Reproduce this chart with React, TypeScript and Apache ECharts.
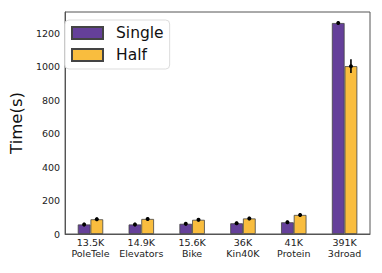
import React, { useEffect, useRef } from "react";
import * as echarts from "echarts";

const categories = ["13.5K\nPoleTele", "14.9K\nElevators", "15.6K\nBike", "36K\nKin40K", "41K\nProtein", "391K\n3droad"];
const singleValues = [57, 57, 61, 64, 70, 1262];
const singleErrors = [4, 4, 4, 4, 4, 4];
const halfValues = [88, 90, 85, 93, 114, 1004];
const halfErrors = [4, 4, 4, 4, 4, 35];
const yTicks = [0, 200, 400, 600, 800, 1000, 1200];

const FONT = "DejaVu Sans";

function errorSeries(values: number[], errors: number[], side: number) {
  return {
    type: "custom",
    name: "err" + side,
    z: 10,
    data: values.map((v, i) => [i, v, errors[i]]),
    encode: { x: 0, y: 1 },
    renderItem: (params: any, api: any) => {
      const i = api.value(0);
      const v = api.value(1);
      const e = api.value(2);
      const band = api.size([1, 0])[0];
      const off = side * band * 0.125;
      const top = api.coord([i, v + e]);
      const bot = api.coord([i, v - e]);
      const mid = api.coord([i, v]);
      const x = mid[0] + off;
      return {
        type: "group",
        children: [
          {
            type: "line",
            shape: { x1: x, y1: top[1] - 1, x2: x, y2: bot[1] + 1 },
            style: { stroke: "#000", lineWidth: 1.6 },
          },
          {
            type: "circle",
            shape: { cx: x, cy: mid[1], r: 2 },
            style: { fill: "#000" },
          },
        ],
      };
    },
  };
}

export default function App() {
  const ref = useRef<HTMLDivElement>(null);
  useEffect(() => {
    if (!ref.current) return;
    const chart = echarts.init(ref.current, null, { renderer: "svg" });
    chart.setOption({
      animation: false,
      textStyle: { fontFamily: FONT },
      grid: {
        left: 57,
        right: 12,
        top: 12,
        bottom: 39,
        show: true,
        borderColor: "#555",
        borderWidth: 1,
        backgroundColor: "transparent",
      },
      legend: {
        data: ["Single", "Half"],
        orient: "vertical",
        left: 65,
        top: 20,
        itemWidth: 31,
        itemHeight: 12,
        itemGap: 6,
        icon: "rect",
        padding: [5, 6, 6, 6],
        backgroundColor: "#fff",
        borderColor: "#ddd",
        borderWidth: 1,
        borderRadius: 4,
        textStyle: { fontFamily: FONT, fontSize: 15.5, color: "#111", padding: [0, 0, 0, 8] },
      },
      xAxis: {
        type: "category",
        data: categories,
        axisTick: { show: false },
        axisLine: { show: true, lineStyle: { color: "#555" } },
        axisLabel: { fontFamily: FONT, fontSize: 9.5, color: "#222", lineHeight: 11, margin: 3, interval: 0 },
      },
      yAxis: {
        type: "value",
        min: 0,
        max: 1328,
        interval: 200,
        name: "Time(s)",
        nameLocation: "middle",
        nameGap: 33,
        nameTextStyle: { fontFamily: FONT, fontSize: 16.5, color: "#111" },
        splitLine: { show: false },
        axisLine: { show: true, lineStyle: { color: "#555" } },
        axisTick: { show: false },
        axisLabel: {
          fontFamily: FONT,
          fontSize: 9.5,
          color: "#222",
          margin: 5,
          showMaxLabel: false,
          formatter: (v: number) => (yTicks.includes(v) ? String(v) : ""),
        },
      },
      series: [
        {
          type: "bar",
          name: "Single",
          data: singleValues,
          barWidth: "25%",
          barGap: "0%",
          itemStyle: { color: "#65409a", borderColor: "#444", borderWidth: 0.8 },
        },
        {
          type: "bar",
          name: "Half",
          data: halfValues,
          barWidth: "25%",
          barGap: "0%",
          itemStyle: { color: "#f9bd3e", borderColor: "#444", borderWidth: 0.8 },
        },
        errorSeries(singleValues, singleErrors, -1),
        errorSeries(halfValues, halfErrors, 1),
      ],
    });
    return () => chart.dispose();
  }, []);
  return <div ref={ref} style={{ width: 382, height: 273, position: "fixed", left: 0, top: 0, background: "#fff" }} />;
}
